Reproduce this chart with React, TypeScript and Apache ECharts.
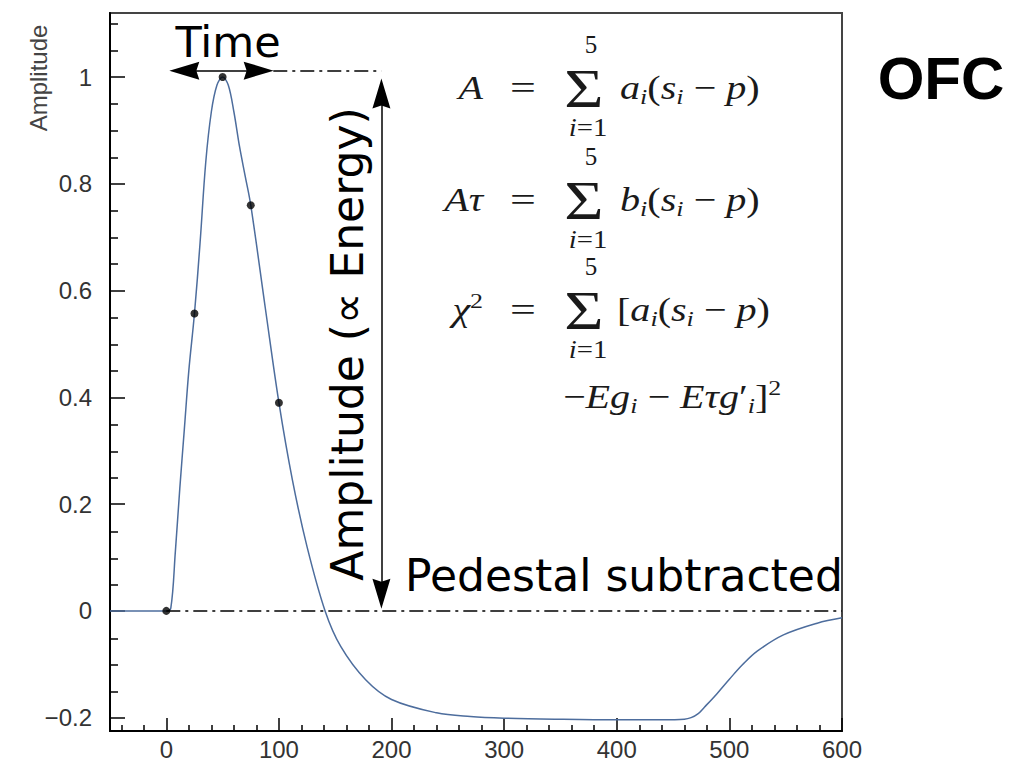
import React, { useEffect, useRef } from "react";
import * as echarts from "echarts";

// ---- data ----
const timeNs = [-50, -20, 0, 4, 8, 12, 16, 20, 25, 30, 35, 40, 45, 50, 55, 60, 65, 70, 75, 88, 100, 112, 125, 141, 155, 177, 200, 240, 270, 300, 350, 400, 440, 460, 466, 472, 478, 489, 500, 512, 525, 548, 578, 600];
const amplitude = [0, 0, 0, 0.005, 0.11, 0.23, 0.34, 0.45, 0.557, 0.69, 0.84, 0.935, 0.985, 1.0, 0.985, 0.935, 0.87, 0.815, 0.76, 0.566, 0.39, 0.245, 0.12, 0, -0.067, -0.129, -0.166, -0.191, -0.198, -0.201, -0.203, -0.204, -0.204, -0.203, -0.2, -0.193, -0.18, -0.155, -0.128, -0.1, -0.075, -0.045, -0.023, -0.013];

const sampleTimes = [0, 25, 50, 75, 100];
const sampleAmps = [0, 0.557, 1.0, 0.76, 0.39];

const xMajorTicks = [0, 100, 200, 300, 400, 500, 600];
const xMinorTicks = [-40, -20, 20, 40, 60, 80, 120, 140, 160, 180, 220, 240, 260, 280, 320, 340, 360, 380, 420, 440, 460, 480, 520, 540, 560, 580];
const yMajorTicks = [-0.2, 0, 0.2, 0.4, 0.6, 0.8, 1];
const yMinorTicks = [-0.15, -0.1, -0.05, 0.05, 0.1, 0.15, 0.25, 0.3, 0.35, 0.45, 0.5, 0.55, 0.65, 0.7, 0.75, 0.85, 0.9, 0.95, 1.05, 1.1];

const xRange = [-50, 600];
const yRange = [-0.225, 1.12];

const peakLevel = 1.012;
const energyArrowX = 191;
// arrow endpoints = arrowhead centres (the heads are centred on the ends)
const timeArrowEnds = [16, 82];
const energyArrowEnds = [0.032, 0.969];
const peakLineStart = 95;

const GRID = { left: 110, right: 176, top: 13, bottom: 29 };
const dashDot = [14, 5, 3, 5];
const arrowHead = [18, 30];
const arrowPath = "path://M9,0 L18,30 L9,27 L0,30 Z";

const serif = "Liberation Serif";
const ink = "#1a1a1a";
const fRich = {
  it: { fontFamily: serif, fontStyle: "italic", fontSize: 34, lineHeight: 40, fill: ink },
  rm: { fontFamily: serif, fontSize: 34, lineHeight: 40, fill: ink },
  sub: { fontFamily: serif, fontStyle: "italic", fontSize: 22, lineHeight: 22, verticalAlign: "bottom", fill: ink },
  sup: { fontFamily: serif, fontSize: 22, lineHeight: 22, verticalAlign: "top", fill: ink },
  lim: { fontFamily: serif, fontStyle: "italic", fontSize: 25, lineHeight: 28, fill: ink },
  limr: { fontFamily: serif, fontSize: 25, lineHeight: 28, fill: ink },
};

function rt(x: number, y: number, text: string, align: string, sx = 1.18) {
  return {
    type: "text",
    x,
    y,
    scaleX: sx,
    style: { text, rich: fRich, align, verticalAlign: "middle", fontFamily: serif, fontSize: 34, fill: ink },
  };
}

function sumBlock(lineY: number) {
  return [
    { type: "text", x: 584, y: lineY + 1, scaleX: 1.25, style: { text: "Σ", fontFamily: serif, fontSize: 54, fill: ink, align: "center", verticalAlign: "middle" } },
    { type: "text", x: 591, y: lineY - 44, style: { text: "5", fontFamily: serif, fontSize: 25, fill: ink, align: "center", verticalAlign: "middle" } },
    rt(588, lineY + 40, "{lim|i}{limr|=1}", "center", 1.15),
  ];
}

function arrowEnd(x: number, y: number) {
  return { coord: [x, y], symbol: arrowPath, symbolSize: arrowHead };
}

export default function App() {
  const ref = useRef<HTMLDivElement>(null);
  useEffect(() => {
    if (!ref.current) return;
    const chart = echarts.init(ref.current, null, { renderer: "svg" });
    const curve = timeNs.map((t, i) => [t, amplitude[i]]);
    const samples = sampleTimes.map((t, i) => [t, sampleAmps[i]]);
    const L1 = 88, L2 = 200, L3 = 310, L4 = 397;

    const axisFont = { fontFamily: "Liberation Sans", fontSize: 24, color: "#333" };
    const tickLine = { color: "#000", width: 1.5 };

    chart.setOption({
      animation: false,
      backgroundColor: "#fff",
      grid: [
        { ...GRID, show: true, borderColor: "#444", borderWidth: 2, backgroundColor: "transparent" },
        { ...GRID, show: false },
      ],
      xAxis: [
        {
          type: "value", gridIndex: 0, min: xRange[0], max: xRange[1], position: "bottom",
          axisLine: { show: true, onZero: false, lineStyle: { color: "#000", width: 2 } },
          axisTick: { show: true, inside: true, length: 13, customValues: xMajorTicks, lineStyle: tickLine },
          axisLabel: { ...axisFont, margin: 6, customValues: xMajorTicks },
          splitLine: { show: false },
        },
        {
          type: "value", gridIndex: 1, min: xRange[0], max: xRange[1], position: "bottom",
          axisLine: { show: false, onZero: false },
          axisTick: { show: true, inside: true, length: 7, customValues: xMinorTicks, lineStyle: tickLine },
          axisLabel: { show: false },
          splitLine: { show: false },
        },
      ],
      yAxis: [
        {
          type: "value", gridIndex: 0, min: yRange[0], max: yRange[1], position: "left",
          axisLine: { show: true, onZero: false, lineStyle: { color: "#000", width: 2 } },
          axisTick: { show: true, inside: true, length: 15, customValues: yMajorTicks, lineStyle: tickLine },
          axisLabel: {
            ...axisFont, margin: 18, customValues: yMajorTicks,
            formatter: (v: number) => String(Math.round(v * 10) / 10).replace("-", "−"),
          },
          splitLine: { show: false },
        },
        {
          type: "value", gridIndex: 1, min: yRange[0], max: yRange[1], position: "left",
          axisLine: { show: false, onZero: false },
          axisTick: { show: true, inside: true, length: 8, customValues: yMinorTicks, lineStyle: tickLine },
          axisLabel: { show: false },
          splitLine: { show: false },
        },
      ],
      series: [
        {
          type: "line",
          xAxisIndex: 0, yAxisIndex: 0,
          data: curve,
          showSymbol: false,
          smooth: 0.35,
          lineStyle: { color: "#4d6d9d", width: 1.5 },
          z: 3,
          silent: true,
          markLine: {
            silent: true,
            symbol: "none",
            label: { show: false },
            lineStyle: { color: "#000", width: 1.5, type: dashDot },
            data: [
              [{ coord: [sampleTimes[0], 0] }, { coord: [xRange[1], 0] }],
              [{ coord: [peakLineStart, peakLevel] }, { coord: [energyArrowX, peakLevel] }],
            ],
          },
        },
        {
          type: "scatter",
          xAxisIndex: 0, yAxisIndex: 0,
          data: samples,
          symbolSize: 8,
          itemStyle: { color: "#000" },
          z: 5,
          silent: true,
          markLine: {
            silent: true,
            symbol: ["arrow", "arrow"],
            symbolSize: 20,
            label: { show: false },
            itemStyle: { color: "#000" },
            lineStyle: { color: "#000", width: 1.5, type: "solid" },
            data: [
              [arrowEnd(timeArrowEnds[0], peakLevel), arrowEnd(timeArrowEnds[1], peakLevel)],
              [arrowEnd(energyArrowX, energyArrowEnds[0]), arrowEnd(energyArrowX, energyArrowEnds[1])],
            ],
          },
        },
      ],
      graphic: [
        { type: "text", x: 38, y: 78, rotation: Math.PI / 2, style: { text: "Amplitude", fontFamily: "Liberation Sans", fontSize: 24, fill: "#444", align: "center", verticalAlign: "middle" } },
        { type: "text", x: 228, y: 42, style: { text: "Time", fontFamily: "DejaVu Sans", fontSize: 43, fill: "#000", align: "center", verticalAlign: "middle" } },
        { type: "text", x: 347, y: 344, rotation: Math.PI / 2, style: { text: "Amplitude (∝ Energy)", fontFamily: "DejaVu Sans", fontSize: 44, fill: "#000", align: "center", verticalAlign: "middle" } },
        { type: "text", x: 405, y: 575, style: { text: "Pedestal subtracted", fontFamily: "DejaVu Sans", fontSize: 44, fill: "#000", align: "left", verticalAlign: "middle" } },
        { type: "text", x: 941, y: 78, style: { text: "OFC", fontFamily: "Liberation Sans", fontWeight: "bold", fontSize: 60, fill: "#000", align: "center", verticalAlign: "middle" } },
        rt(483, L1, "{it|A}", "right"),
        rt(483, L2, "{it|Aτ}", "right"),
        rt(483, L3, "{it|χ}{sup|2}", "right"),
        rt(523, L1, "{rm|=}", "center", 1.35),
        rt(523, L2, "{rm|=}", "center", 1.35),
        rt(523, L3, "{rm|=}", "center", 1.35),
        ...sumBlock(L1),
        ...sumBlock(L2),
        ...sumBlock(L3),
        rt(620, L1, "{it|a}{sub|i}{rm|(}{it|s}{sub|i}{rm| − }{it|p}{rm|)}", "left"),
        rt(620, L2, "{it|b}{sub|i}{rm|(}{it|s}{sub|i}{rm| − }{it|p}{rm|)}", "left"),
        rt(617, L3, "{rm|[}{it|a}{sub|i}{rm|(}{it|s}{sub|i}{rm| − }{it|p}{rm|)}", "left"),
        rt(563, L4, "{rm|−}{it|Eg}{sub|i}{rm| − }{it|Eτg}{rm|′}{sub|i}{rm|]}{sup|2}", "left"),
      ],
    });
    return () => chart.dispose();
  }, []);
  return <div ref={ref} style={{ position: "fixed", left: 0, top: 0, width: 1018, height: 761 }} />;
}
